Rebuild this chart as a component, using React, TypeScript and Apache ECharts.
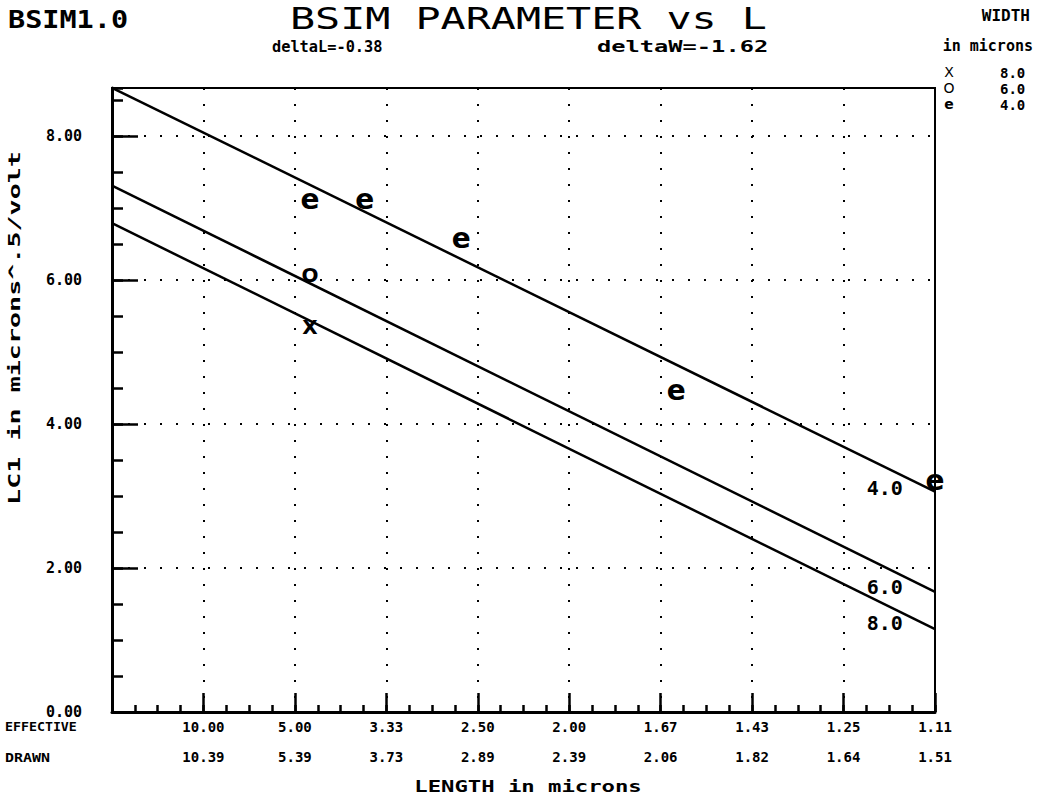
import React, { useEffect, useRef } from "react";
import * as echarts from "echarts";

// Tick positions are 1/L (effective), labelled with lengths in microns
const xTickValues = [0.1, 0.2, 0.3, 0.4, 0.5, 0.6, 0.7, 0.8, 0.9];
const effectiveLabels = ["10.00", "5.00", "3.33", "2.50", "2.00", "1.67", "1.43", "1.25", "1.11"];
const drawnLabels = ["10.39", "5.39", "3.73", "2.89", "2.39", "2.06", "1.82", "1.64", "1.51"];

// Measured points (x = 1/Leff, y = LC1)
const w4X = [0.2165, 0.2765, 0.382, 0.617, 0.9];
const w4Y = [7.08, 7.08, 6.53, 4.43, 3.18];
const w6X = [0.2165];
const w6Y = [6.07];
const w8X = [0.2165];
const w8Y = [5.35];

// Fitted lines, values at x = 0 and x = 0.9
const fitX = [0, 0.9];
const fitW4 = [8.67, 3.06];
const fitW6 = [7.31, 1.67];
const fitW8 = [6.79, 1.15];

// Line annotations
const widthNames = ["4.0", "6.0", "8.0"];
const lineLabelX = 0.845;
const lineLabelY = [3.11, 1.74, 1.24];

const MONO = "'DejaVu Sans Mono', monospace";
const SANS = "'DejaVu Sans', sans-serif";

function pairs(xs: number[], ys: number[]) {
  return xs.map((x, i) => [x, ys[i]]);
}

export default function App() {
  const ref = useRef<HTMLDivElement>(null);
  useEffect(() => {
    if (!ref.current) return;
    const chart = echarts.init(ref.current, undefined, { renderer: "svg" });
    const dotted = { color: "#000", width: 2, type: [2, 14] as any };
    const markerSeries = (name: string, xs: number[], ys: number[], glyph: string, size: number, dy: number) => ({
      type: "scatter",
      name,
      data: pairs(xs, ys),
      symbolSize: 1,
      clip: false,
      silent: true,
      itemStyle: { color: "rgba(0,0,0,0)", opacity: 1 },
      label: {
        show: true,
        position: "inside",
        formatter: glyph,
        color: "#000",
        fontFamily: SANS,
        fontWeight: "bold",
        fontSize: size,
        offset: [0, dy],
      },
      z: 5,
    });
    const lineSeries = (name: string, ys: number[]) => ({
      type: "line",
      name,
      data: pairs(fitX, ys),
      symbol: "none",
      silent: true,
      lineStyle: { color: "#000", width: 2.5 },
      z: 4,
    });
    const gtext = (
      text: string,
      x: number,
      y: number,
      size: number,
      opts: { bold?: boolean; align?: string; scaleX?: number; rotation?: number; family?: string } = {}
    ) => ({
      type: "text",
      x,
      y,
      scaleX: opts.scaleX ?? 1,
      rotation: opts.rotation ?? 0,
      silent: true,
      style: {
        text,
        x: 0,
        y: 0,
        fill: "#000",
        font: `${opts.bold ? "bold " : ""}${size}px ${opts.family ?? MONO}`,
        textAlign: opts.align ?? "left",
        textVerticalAlign: "middle",
      },
    });

    chart.setOption({
      animation: false,
      backgroundColor: "#fff",
      grid: {
        left: 112,
        right: 103,
        top: 88,
        bottom: 89,
        show: true,
        borderColor: "#000",
        borderWidth: 2,
      },
      xAxis: [
        {
          type: "value",
          min: 0,
          max: 0.9,
          interval: 0.1,
          axisLine: { show: true, lineStyle: { color: "#000", width: 3 } },
          axisTick: { show: true, inside: true, length: 19, lineStyle: { color: "#000", width: 2.5 } },
          axisLabel: {
            show: true,
            margin: 0,
            showMaxLabel: true,
            color: "#000",
            fontFamily: MONO,
            fontWeight: "bold",
            fontSize: 14,
            lineHeight: 30,
            formatter: (v: number) => {
              const i = xTickValues.findIndex((t) => Math.abs(t - v) < 1e-6);
              if (i < 0) return "";
              return effectiveLabels[i] + "\n" + drawnLabels[i];
            },
          },
          splitLine: { show: true, lineStyle: dotted },
        },
        {
          type: "value",
          min: 0,
          max: 0.9,
          interval: 0.025,
          position: "bottom",
          axisLine: { show: false },
          axisTick: { show: true, inside: true, length: 7, lineStyle: { color: "#000", width: 2.5 } },
          axisLabel: { show: false },
          splitLine: { show: false },
        },
      ],
      yAxis: [
        {
          type: "value",
          min: 0,
          max: 8.667,
          interval: 2,
          axisLine: { show: true, lineStyle: { color: "#000", width: 3 } },
          axisTick: { show: true, inside: true, length: 26, lineStyle: { color: "#000", width: 2.5 } },
          axisLabel: {
            show: true,
            margin: 30,
            showMaxLabel: false,
            color: "#000",
            fontFamily: MONO,
            fontWeight: "bold",
            fontSize: 15,
            formatter: (v: number) => v.toFixed(2),
          },
          splitLine: { show: true, lineStyle: dotted },
        },
        {
          type: "value",
          min: 0,
          max: 8.667,
          interval: 0.5,
          position: "left",
          offset: 0,
          axisLine: { show: false },
          axisTick: { show: true, inside: true, length: 11, lineStyle: { color: "#000", width: 2.5 } },
          axisLabel: { show: false },
          splitLine: { show: false },
        },
      ],
      series: [
        lineSeries("W4 fit", fitW4),
        lineSeries("W6 fit", fitW6),
        lineSeries("W8 fit", fitW8),
        markerSeries("W4", w4X, w4Y, "e", 28, -3),
        markerSeries("W6", w6X, w6Y, "O", 20, 0),
        markerSeries("W8", w8X, w8Y, "X", 20, 0),
        {
          type: "scatter",
          name: "line labels",
          data: lineLabelY.map((y, i) => ({ value: [lineLabelX, y], name: widthNames[i] })),
          symbolSize: 1,
          silent: true,
          itemStyle: { color: "rgba(0,0,0,0)", opacity: 1 },
          label: {
            show: true,
            position: "inside",
            formatter: (p: any) => p.name,
            color: "#000",
            fontFamily: MONO,
            fontWeight: "bold",
            fontSize: 20,
          },
          z: 5,
        },
      ],
      graphic: [
        gtext("BSIM1.0", 8, 19, 25, { bold: true, scaleX: 1.14 }),
        gtext("BSIM PARAMETER vs L", 290, 19, 30, { scaleX: 1.39 }),
        gtext("deltaL=-0.38", 272, 47, 15, { bold: true, scaleX: 1.02 }),
        gtext("deltaW=-1.62", 597, 47, 15, { bold: true, scaleX: 1.58 }),
        gtext("WIDTH", 1030, 15, 16, { bold: true, align: "right" }),
        gtext("in microns", 1033, 46, 15, { bold: true, align: "right" }),
        gtext("X", 949, 72, 14, { align: "center", family: SANS }),
        gtext("O", 949, 88, 14, { align: "center", family: SANS }),
        gtext("e", 949, 104, 14, { align: "center", family: SANS, bold: true }),
        gtext("8.0", 1000, 73, 14, { bold: true }),
        gtext("6.0", 1000, 89, 14, { bold: true }),
        gtext("4.0", 1000, 105, 14, { bold: true }),
        gtext("LC1 in microns^.5/volt", 15, 328, 16, { bold: true, align: "center", scaleX: 1.67, rotation: Math.PI / 2 }),
        gtext("EFFECTIVE", 5, 727, 13, { bold: true, scaleX: 1.02 }),
        gtext("DRAWN", 5, 757, 13, { bold: true, scaleX: 1.15 }),
        gtext("LENGTH in microns", 528, 787, 16, { bold: true, align: "center", scaleX: 1.39 }),
      ],
    });
    return () => chart.dispose();
  }, []);
  return (
    <div
      ref={ref}
      style={{ position: "fixed", left: 0, top: 0, width: 1038, height: 801, background: "#fff" }}
    />
  );
}
